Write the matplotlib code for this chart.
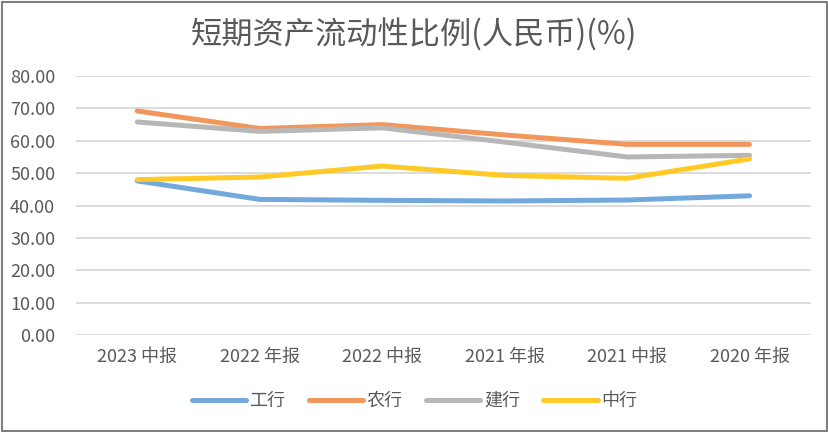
import matplotlib
matplotlib.use("Agg")
import matplotlib.pyplot as plt
from matplotlib.patches import Rectangle

plt.rcParams['font.family'] = ['Noto Sans CJK SC', 'DejaVu Sans']

# Data
periods = ["2023 中报", "2022 年报", "2022 中报", "2021 年报", "2021 中报", "2020 年报"]
icbc = [47.6, 41.9, 41.6, 41.4, 41.7, 43.0]
abc = [69.2, 63.8, 65.0, 61.8, 58.9, 58.9]
ccb = [65.8, 62.9, 64.0, 59.6, 55.0, 55.5]
boc = [48.0, 48.8, 52.2, 49.3, 48.4, 54.4]
series_names = ["工行", "农行", "建行", "中行"]
colors = ["#72A8DC", "#F2975C", "#B7B7B7", "#FFC928"]
yticks = [0, 10, 20, 30, 40, 50, 60, 70, 80]

text_color = "#595959"

fig = plt.figure(figsize=(8.29, 4.32), dpi=100)
ax = fig.add_axes([0.0917, 0.2245, 0.8863, 0.5995])

x = range(len(periods))
for vals, name, c in zip([icbc, abc, ccb, boc], series_names, colors):
    ax.plot(x, vals, color=c, linewidth=3.6, label=name, solid_capstyle="round",
            solid_joinstyle="round")

ax.set_xlim(-0.5, len(periods) - 0.5)
ax.set_ylim(0, 80)
ax.set_yticks(yticks)
ax.set_yticklabels([f"{v:.2f}" for v in yticks])
ax.set_xticks(list(x))
ax.set_xticklabels(periods)
ax.tick_params(axis="both", length=0, colors=text_color, labelsize=13)
ax.tick_params(axis="x", pad=9)
ax.tick_params(axis="y", pad=15)
ax.grid(axis="y", color="#D9D9D9", linewidth=1.3)
ax.set_axisbelow(True)
for s in ax.spines.values():
    s.set_visible(False)

fig.text(0.5, 0.918, "短期资产流动性比例(人民币)(%)", ha="center", va="center",
         fontsize=22.5, color=text_color)

leg = fig.legend(loc="center", bbox_to_anchor=(0.5, 0.072), ncol=4, frameon=False,
                 fontsize=13, handlelength=3.0, columnspacing=1.3, handletextpad=0.2)
for t in leg.get_texts():
    t.set_color(text_color)

# outer border
fig.patches.append(Rectangle((0.002, 0.003), 0.995, 0.993, transform=fig.transFigure,
                             fill=False, edgecolor="#7F7F7F", linewidth=1.5))

fig.savefig("out.png", dpi=100)
